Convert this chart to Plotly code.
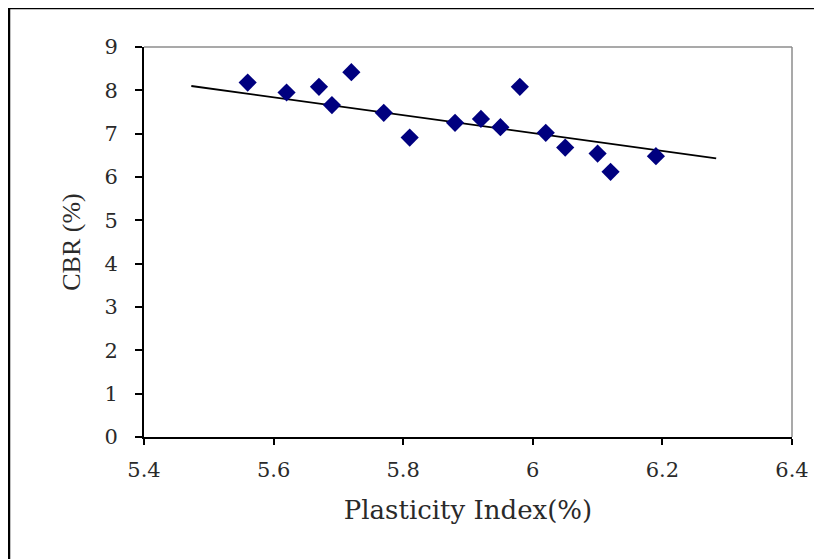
import plotly.graph_objects as go

# Data
plasticity_index = [5.56, 5.62, 5.67, 5.72, 5.69, 5.77, 5.81, 5.88,
                    5.92, 5.95, 5.98, 6.02, 6.05, 6.10, 6.12, 6.19]
cbr = [8.18, 7.95, 8.08, 8.42, 7.66, 7.48, 6.91, 7.25,
       7.34, 7.15, 8.08, 7.02, 6.68, 6.54, 6.12, 6.48]

trend_x = [5.473, 6.283]
trend_y = [8.10, 6.43]

x_tick_vals = [5.4, 5.6, 5.8, 6.0, 6.2, 6.4]
x_tick_text = ["5.4", "5.6", "5.8", "6", "6.2", "6.4"]
y_tick_vals = [0, 1, 2, 3, 4, 5, 6, 7, 8, 9]

# figure sits inside the page's 8px body margin
W, H = 814, 551
L, R, T, B = 136, 30, 39, 122
pw, ph = W - L - R, H - T - B

fig = go.Figure()
fig.add_trace(go.Scatter(x=trend_x, y=trend_y, mode="lines",
                         line=dict(color="black", width=1.8),
                         showlegend=False, hoverinfo="skip"))
fig.add_trace(go.Scatter(x=plasticity_index, y=cbr, mode="markers",
                         marker=dict(symbol="diamond", size=14, color="#00007f",
                                     line=dict(width=0)),
                         showlegend=False))

def px_x(p):
    return (p - L) / pw

def px_y(p):
    return (H - B - p) / ph

# outer frame (left and top edges visible)
fig.add_shape(type="line", xref="paper", yref="paper",
              x0=px_x(1), x1=px_x(1), y0=px_y(H + 20), y1=px_y(0),
              line=dict(color="black", width=2.5), layer="above")
fig.add_shape(type="line", xref="paper", yref="paper",
              x0=px_x(0), x1=px_x(W - 4), y0=px_y(0), y1=px_y(0),
              line=dict(color="black", width=2.5), layer="above")
# gray top/right plot border
fig.add_shape(type="line", xref="paper", yref="paper", x0=0, x1=1, y0=1, y1=1,
              line=dict(color="#8c8c8c", width=1.5))
fig.add_shape(type="line", xref="paper", yref="paper", x0=1, x1=1, y0=0, y1=1,
              line=dict(color="#8c8c8c", width=1.5))

tick_font = dict(family="DejaVu Serif", size=21, color="#2a2a2a")

fig.update_layout(
    width=W, height=H,
    margin=dict(l=L, r=R, t=T, b=B),
    paper_bgcolor="white", plot_bgcolor="white",
    xaxis=dict(range=[5.4, 6.4], tickvals=x_tick_vals, ticktext=x_tick_text,
               showgrid=False, zeroline=False, showline=True,
               linecolor="black", linewidth=2, ticks="outside", ticklen=6,
               tickwidth=2, tickcolor="black", tickfont=tick_font,
               ticklabelstandoff=7,
               title=dict(text="Plasticity Index(%)", standoff=20,
                          font=dict(family="DejaVu Serif", size=26, color="#2a2a2a"))),
    yaxis=dict(range=[0, 9], tickvals=y_tick_vals,
               showgrid=False, zeroline=False, showline=True,
               linecolor="black", linewidth=2, ticks="outside", ticklen=7,
               tickwidth=2, tickcolor="black", tickfont=tick_font,
               ticklabelstandoff=13,
               title=dict(text="CBR (%)", standoff=16,
                          font=dict(family="Liberation Serif", size=26, color="#2a2a2a"))),
)

fig.write_html("out.html")
